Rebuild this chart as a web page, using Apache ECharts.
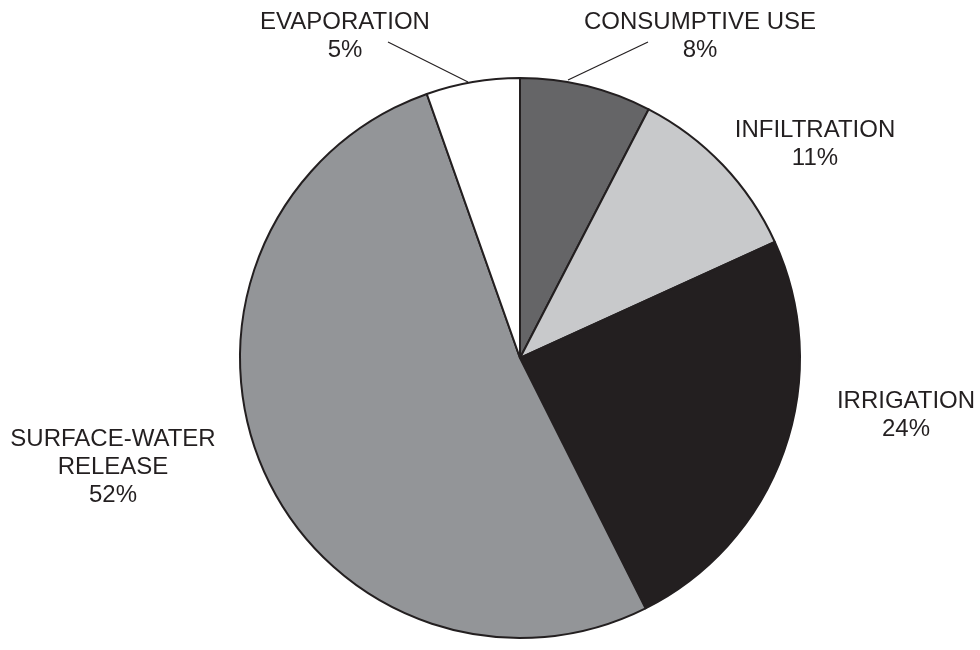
<!DOCTYPE html>
<html>
<head>
<meta charset="utf-8">
<script src="https://cdn.jsdelivr.net/npm/echarts@6/dist/echarts.min.js"></script>
<style>
html,body{margin:0;padding:0;background:#fff;}
#chart{width:980px;height:650px;}
</style>
</head>
<body>
<div id="chart"></div>
<script>
var categories = ['CONSUMPTIVE USE', 'INFILTRATION', 'IRRIGATION', 'SURFACE-WATER\nRELEASE', 'EVAPORATION'];
var values = [7.6, 10.6, 24.4, 52.0, 5.4];
var colors = ['#656567', '#c8c9cb', '#231f20', '#939598', '#ffffff'];

// label anchor positions (styling only)
var labelPos = [
  {x: 700, y: 36, line: [[648, 42], [568, 80]]},
  {x: 815, y: 144},
  {x: 906, y: 415},
  {x: 113, y: 467},
  {x: 345, y: 36, line: [[388, 42], [468, 82]]}
];

var chart = echarts.init(document.getElementById('chart'));
chart.setOption({
  animation: false,
  backgroundColor: '#ffffff',
  series: [{
    type: 'pie',
    center: [520, 358],
    radius: [0, 280],
    startAngle: 90,
    clockwise: true,
    data: categories.map(function (c, i) {
      return {
        name: c,
        value: values[i],
        itemStyle: {color: colors[i]},
        labelLine: {show: !!labelPos[i].line}
      };
    }),
    itemStyle: {borderColor: '#231f20', borderWidth: 2},
    label: {
      show: true,
      position: 'outside',
      formatter: function (p) { return p.name + '\n' + Math.round(p.percent) + '%'; },
      fontFamily: 'Liberation Sans, Arial, sans-serif',
      fontSize: 24,
      lineHeight: 28,
      color: '#231f20',
      align: 'center'
    },
    labelLine: {lineStyle: {color: '#231f20', width: 1.2}, length: 10, length2: 10},
    emphasis: {disabled: true},
    labelLayout: function (p) {
      var lp = labelPos[p.dataIndex];
      var r = {x: lp.x, y: lp.y, align: 'center', verticalAlign: 'middle', hideOverlap: false, moveOverlap: false};
      if (lp.line) r.labelLinePoints = [lp.line[0], lp.line[0], lp.line[1]];
      return r;
    }
  }]
});
</script>
</body>
</html>
